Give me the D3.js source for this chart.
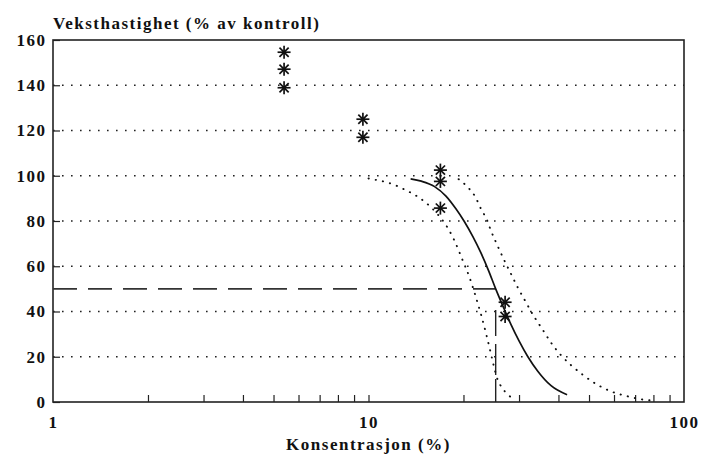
<!DOCTYPE html>
<html>
<head>
<meta charset="utf-8">
<script src="https://cdn.jsdelivr.net/npm/d3@7"></script>
<style>
  html, body { margin: 0; padding: 0; background: #fff; }
  svg { display: block; }
  text { font-family: "Liberation Serif", "DejaVu Serif", serif; font-weight: bold; fill: #111; }
</style>
</head>
<body>
<svg id="chart" width="712" height="454"></svg>
<script>
// ---- data ----
const yTitle = "Veksthastighet (% av kontroll)";
const xTitle = "Konsentrasjon (%)";
const yTickValues = [0, 20, 40, 60, 80, 100, 120, 140, 160];
const xTickLabels = [1, 10, 100];
const xMinorTicks = [2, 3, 4, 5, 6, 7, 8, 9, 10, 20, 30, 40, 50, 60, 70, 80, 90];
const gridValues = [20, 40, 60, 80, 100, 120, 140];

// observations (concentration %, growth % of control)
const obsX = [5.4, 5.4, 5.4, 9.6, 9.6, 16.9, 16.9, 16.9, 27.1, 27.1];
const obsY = [154.6, 147.1, 138.9, 125.0, 117.0, 102.5, 97.5, 85.7, 44.1, 37.8];

// fitted curve
const fitX = [13.6, 14.7, 16.2, 17.6, 18.9, 20.1, 21.4, 22.7, 24.0, 25.3, 26.9, 28.3, 30.0, 32.0, 34.4, 37.9, 42.6];
const fitY = [98.6, 97.6, 95.2, 91.0, 85.5, 79.9, 73.2, 66.0, 58.2, 50.0, 41.2, 34.2, 27.0, 20.0, 13.6, 7.2, 3.2];

// lower confidence band (dotted, left)
const loX = [10.0, 10.7, 11.5, 12.4, 13.1, 14.0, 15.0, 15.8, 16.6, 17.4, 18.0, 18.7, 19.9, 20.9, 21.9, 22.7, 23.6, 24.3, 24.9, 25.5, 26.6, 27.6, 29.0];
const loY = [98.8, 98.0, 97.0, 95.3, 93.7, 91.6, 88.7, 86.0, 82.8, 79.2, 76.0, 71.5, 62.5, 55.1, 46.3, 39.0, 30.1, 22.8, 16.5, 11.0, 6.0, 3.4, 1.0];

// upper confidence band (dotted, right)
const hiX = [19.3, 20.9, 21.8, 22.7, 23.8, 24.4, 25.7, 26.9, 28.3, 29.7, 31.2, 33.6, 35.6, 37.9, 40.8, 43.9, 47.8, 52.6, 58.7, 66.3, 74.7, 80.5];
const hiY = [98.5, 94.1, 90.7, 85.5, 80.1, 76.0, 68.8, 62.8, 56.6, 50.7, 45.3, 37.4, 32.1, 26.2, 20.6, 16.2, 12.0, 8.0, 4.7, 2.5, 1.0, 0.6];

// EC50 marker
const ec50 = 25.3;
const ecLevel = 50;

// ---- layout ----
const L = 53, R = 684, T = 40, B = 402;
const FS = 17, LS = "1.5px";
const svg = d3.select("#chart");

const x = d3.scaleLog().domain([1, 100]).range([L, R]);
const y = d3.scaleLinear().domain([0, 160]).range([B, T]);

// gridlines
svg.append("g").selectAll("line").data(gridValues).join("line")
  .attr("x1", L).attr("x2", R)
  .attr("y1", d => y(d)).attr("y2", d => y(d))
  .attr("stroke", "#222").attr("stroke-width", 1.4)
  .attr("stroke-dasharray", "1.6,7.4");

// y ticks (inward) and labels
const yAxis = d3.axisLeft(y).tickValues(yTickValues).tickSize(-7).tickPadding(8).tickFormat(d3.format("d"));
const gy = svg.append("g").attr("transform", `translate(${L},0)`).call(yAxis);
gy.select(".domain").remove();
gy.selectAll(".tick line").attr("stroke", "#222").attr("stroke-width", 1.2);
gy.selectAll(".tick text")
  .attr("font-size", FS).attr("font-family", "Liberation Serif").attr("font-weight", "bold")
  .attr("fill", "#111").style("letter-spacing", LS).attr("dx", "1.5px");

// x minor ticks (inward)
const xAxisMinor = d3.axisBottom(x).tickValues(xMinorTicks).tickSize(-7).tickFormat("");
const gxm = svg.append("g").attr("transform", `translate(0,${B})`).call(xAxisMinor);
gxm.select(".domain").remove();
gxm.selectAll(".tick line").attr("stroke", "#222").attr("stroke-width", 1.2);

// x labels
const xAxisLab = d3.axisBottom(x).tickValues(xTickLabels).tickSize(0).tickPadding(14).tickFormat(d3.format("d"));
const gxl = svg.append("g").attr("transform", `translate(0,${B})`).call(xAxisLab);
gxl.select(".domain").remove();
gxl.selectAll(".tick text")
  .attr("font-size", FS).attr("font-family", "Liberation Serif").attr("font-weight", "bold")
  .attr("fill", "#111").style("letter-spacing", LS);

// frame
svg.append("rect").attr("x", L).attr("y", T).attr("width", R - L).attr("height", B - T)
  .attr("fill", "none").attr("stroke", "#222").attr("stroke-width", 1.6);

// EC50 dashed horizontal + vertical
svg.append("line")
  .attr("x1", x(1)).attr("x2", x(ec50))
  .attr("y1", y(ecLevel)).attr("y2", y(ecLevel))
  .attr("stroke", "#333").attr("stroke-width", 1.7)
  .attr("stroke-dasharray", "24,11");
svg.append("line")
  .attr("x1", x(ec50)).attr("x2", x(ec50))
  .attr("y1", y(ecLevel)).attr("y2", y(0))
  .attr("stroke", "#222").attr("stroke-width", 1.4)
  .attr("stroke-dasharray", "0,21,26,8,31,4,30");

const line = d3.line().x(d => x(d[0])).y(d => y(d[1])).curve(d3.curveMonotoneX);

// confidence bands
[d3.zip(loX, loY), d3.zip(hiX, hiY)].forEach(band => {
  svg.append("path").datum(band).attr("d", line)
    .attr("fill", "none").attr("stroke", "#111").attr("stroke-width", 1.9)
    .attr("stroke-linecap", "round").attr("stroke-dasharray", "0.3,7");
});

// fitted curve
svg.append("path").datum(d3.zip(fitX, fitY)).attr("d", line)
  .attr("fill", "none").attr("stroke", "#111").attr("stroke-width", 1.7);

// asterisk markers
const star = svg.append("g").selectAll("g").data(d3.zip(obsX, obsY)).join("g")
  .attr("transform", d => `translate(${x(d[0])},${y(d[1])})`);
[0, 45, 90, 135].forEach(a => {
  star.append("line")
    .attr("x1", -6.5).attr("x2", 6.5).attr("y1", 0).attr("y2", 0)
    .attr("transform", `rotate(${a})`)
    .attr("stroke", "#111").attr("stroke-width", 1.7);
});
star.append("circle").attr("r", 1.8).attr("fill", "#111");

// titles
svg.append("text").attr("x", L).attr("y", 29).attr("font-size", FS).style("letter-spacing", LS).text(yTitle);
svg.append("text").attr("x", x(10)).attr("y", 450).attr("text-anchor", "middle").attr("font-size", FS).style("letter-spacing", LS).text(xTitle);
</script>
</body>
</html>
